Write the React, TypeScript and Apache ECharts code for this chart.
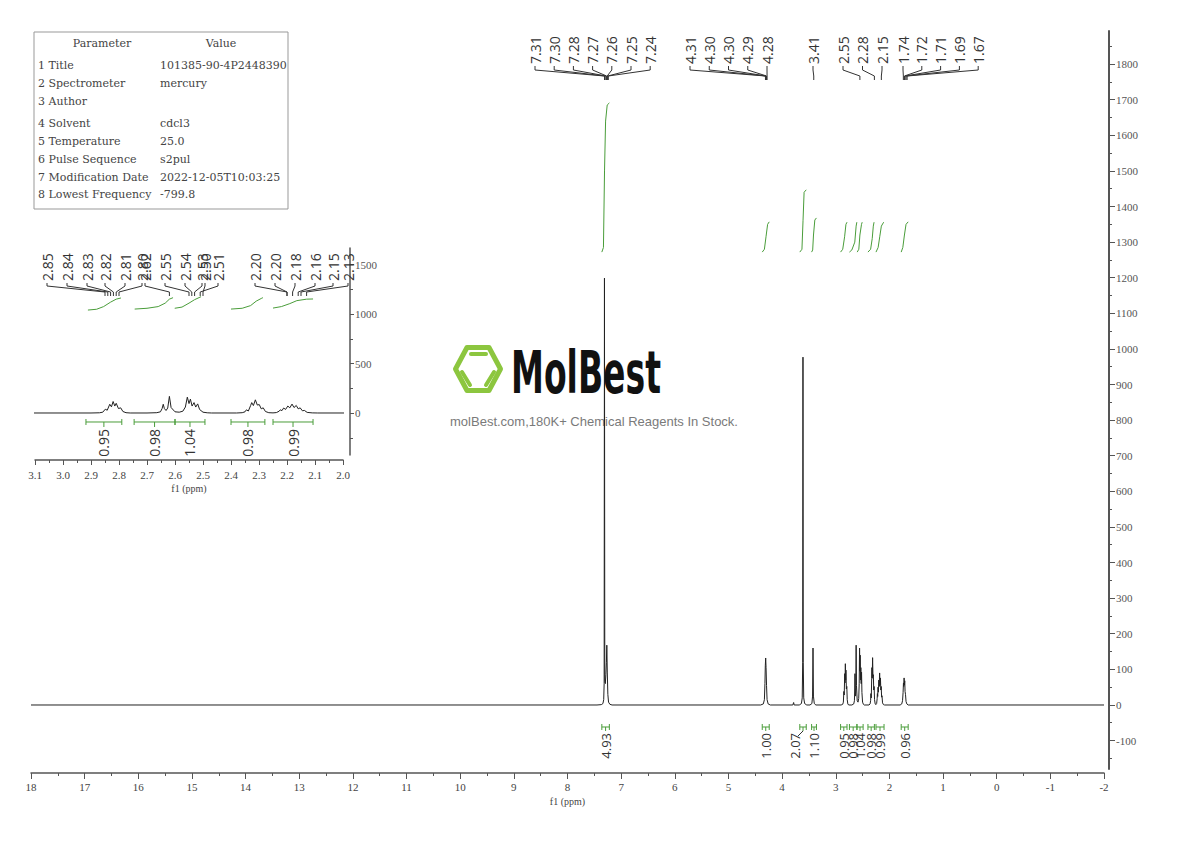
import React, { useEffect, useRef } from "react";
import * as echarts from "echarts";

// ---------------- data ----------------
// 1H spectrum: [ppm, intensity] points (apexes / valleys), high ppm -> low ppm
const spectrumPoints: number[][] = [
  [18, 0], [7.45, 0], [7.37, 1], [7.34, 4], [7.325, 15], [7.317, 60], [7.311, 1199], [7.305, 70],
  [7.295, 60], [7.285, 85], [7.275, 120], [7.267, 168], [7.258, 90], [7.248, 30], [7.235, 8], [7.21, 2], [7.17, 0],
  [4.4, 0], [4.35, 3], [4.33, 15], [4.32, 60], [4.313, 110], [4.306, 132], [4.299, 105], [4.29, 55], [4.28, 15], [4.26, 3], [4.22, 0],
  [3.8, 0], [3.785, 7], [3.775, 0],
  [3.68, 0], [3.64, 4], [3.625, 20], [3.616, 120], [3.611, 977], [3.606, 120], [3.597, 20], [3.58, 4], [3.54, 0],
  [3.48, 0], [3.445, 4], [3.432, 25], [3.424, 160], [3.416, 25], [3.4, 4], [3.37, 0],
  [2.9, 0], [2.87, 2], [2.858, 8], [2.849, 38], [2.842, 28], [2.833, 88], [2.827, 62], [2.821, 116], [2.815, 70],
  [2.81, 98], [2.802, 45], [2.794, 52], [2.786, 15], [2.775, 3], [2.76, 0],
  [2.7, 0], [2.665, 3], [2.652, 12], [2.646, 45], [2.642, 88], [2.638, 45], [2.632, 25], [2.626, 50], [2.62, 168],
  [2.614, 55], [2.6, 12], [2.585, 8], [2.572, 18], [2.563, 60], [2.556, 160], [2.55, 95], [2.545, 140], [2.539, 70],
  [2.532, 105], [2.526, 60], [2.519, 92], [2.512, 35], [2.5, 8], [2.485, 2], [2.47, 0],
  [2.38, 0], [2.36, 3], [2.35, 12], [2.345, 32], [2.338, 20], [2.33, 75], [2.326, 105], [2.32, 75], [2.313, 133],
  [2.306, 80], [2.299, 85], [2.292, 42], [2.285, 52], [2.277, 15], [2.265, 3], [2.25, 1],
  [2.238, 4], [2.228, 18], [2.224, 32], [2.218, 24], [2.212, 50], [2.205, 36], [2.197, 70], [2.19, 52], [2.182, 90],
  [2.175, 55], [2.167, 76], [2.16, 42], [2.153, 52], [2.145, 22], [2.138, 26], [2.128, 6], [2.11, 1], [2.09, 0],
  [1.8, 0], [1.77, 3], [1.755, 12], [1.745, 35], [1.738, 62], [1.732, 52], [1.726, 76], [1.72, 56], [1.714, 68],
  [1.708, 38], [1.7, 30], [1.69, 10], [1.675, 3], [1.65, 0],
  [-2, 0],
];

// axis tick labels
const mainYLabelValues = [-100, 0, 100, 200, 300, 400, 500, 600, 700, 800, 900, 1000, 1100, 1200, 1300, 1400, 1500, 1600, 1700, 1800];
const mainYMinorValues = [-150, -50, 50, 150, 250, 350, 450, 550, 650, 750, 850, 950, 1050, 1150, 1250, 1350, 1450, 1550, 1650, 1750, 1850];
const insetYLabelValues = [0, 500, 1000, 1500];
const insetYMinorValues = [-250, 250, 750, 1250];

// peak picking labels
const mainPeakGroups: string[][] = [
  ["7.31", "7.30", "7.28", "7.27", "7.26", "7.25", "7.24"],
  ["4.31", "4.30", "4.30", "4.29", "4.28"],
  ["3.41"],
  ["2.55", "2.28", "2.15"],
  ["1.74", "1.72", "1.71", "1.69", "1.67"],
];
const insetPeakLabels = ["2.85", "2.84", "2.83", "2.82", "2.81", "2.80", "2.62", "2.55", "2.54", "2.53", "2.50", "2.51", "2.20", "2.20", "2.18", "2.16", "2.15", "2.13"];

// integrations (main)
const mainIntFrom = [7.36, 4.37, 3.67, 3.45, 2.91, 2.745, 2.605, 2.4, 2.25, 1.78];
const mainIntTo = [7.22, 4.24, 3.55, 3.36, 2.79, 2.605, 2.49, 2.28, 2.1, 1.65];
const mainIntLabels = ["4.93", "1.00", "2.07", "1.10", "0.95", "0.98", "1.04", "0.98", "0.99", "0.96"];
const mainIntCurves: number[][][] = [
  [[7.36, 1272], [7.33, 1285], [7.31, 1500], [7.29, 1640], [7.26, 1685], [7.22, 1691]],
  [[4.37, 1272], [4.33, 1280], [4.3, 1315], [4.27, 1350], [4.24, 1357]],
  [[3.67, 1272], [3.63, 1280], [3.61, 1360], [3.59, 1440], [3.55, 1447]],
  [[3.45, 1272], [3.43, 1278], [3.415, 1320], [3.39, 1362], [3.36, 1368]],
  [[2.91, 1272], [2.87, 1280], [2.835, 1315], [2.81, 1350], [2.79, 1356]],
  [[2.745, 1272], [2.7, 1278], [2.645, 1300], [2.62, 1345], [2.607, 1356]],
  [[2.6, 1272], [2.57, 1280], [2.55, 1320], [2.52, 1350], [2.507, 1356]],
  [[2.4, 1272], [2.35, 1280], [2.32, 1310], [2.3, 1345], [2.286, 1356]],
  [[2.25, 1272], [2.21, 1285], [2.18, 1315], [2.15, 1345], [2.107, 1356]],
  [[1.78, 1272], [1.75, 1285], [1.72, 1320], [1.69, 1350], [1.65, 1357]],
];

// integrations (inset)
const insetIntFrom = [2.918, 2.746, 2.6, 2.4, 2.25];
const insetIntTo = [2.79, 2.6, 2.493, 2.279, 2.107];
const insetIntLabels = ["0.95", "0.98", "1.04", "0.98", "0.99"];
const insetIntCurves: number[][][] = [
  [[2.911, 1040], [2.88, 1048], [2.855, 1075], [2.83, 1120], [2.81, 1150], [2.793, 1162]],
  [[2.744, 1050], [2.7, 1058], [2.66, 1075], [2.635, 1110], [2.62, 1150], [2.607, 1165]],
  [[2.601, 1058], [2.575, 1070], [2.55, 1110], [2.53, 1145], [2.507, 1175]],
  [[2.4, 1050], [2.36, 1058], [2.33, 1085], [2.31, 1130], [2.29, 1160], [2.286, 1165]],
  [[2.25, 1060], [2.22, 1075], [2.19, 1105], [2.165, 1135], [2.13, 1150], [2.107, 1152]],
];

// parameter table
const paramNames = ["1 Title", "2 Spectrometer", "3 Author", "4 Solvent", "5 Temperature", "6 Pulse Sequence", "7 Modification Date", "8 Lowest Frequency"];
const paramValues = ["101385-90-4P2448390", "mercury", "", "cdcl3", "25.0", "s2pul", "2022-12-05T10:03:25", "-799.8"];

// ---------------- layout / style ----------------
const GREEN = "#4a9d3a";
const INK = "#222";
const AXIS = "#555";
const SERIF = "Liberation Serif";
const LABEL_FONT = "Open Sans";

const mainLabelStart = [535, 690, 813, 843, 903];
const mainLabelStep = [19.2, 19.25, 0, 19.5, 18.8];
const insetLabelX = [47, 67, 87, 105, 125, 142, 145, 165, 185, 202, 205, 218, 255, 275, 295, 315, 333, 348];
const mainIntLabelShift = [0, 0, -8, 0, 0, 0, 0, 0, 0, 0];
const paramRowY = [65, 83, 101, 123, 141, 159, 177, 194];

const plain = (v: number) => String(v);

function buildOption(): any {
  const xLabel = { color: "#444", fontFamily: SERIF, fontSize: 11 };
  const series: any[] = [
    { type: "line", xAxisIndex: 0, yAxisIndex: 0, data: spectrumPoints, symbol: "none", silent: true, lineStyle: { color: INK, width: 1 }, z: 3 },
    { type: "line", xAxisIndex: 1, yAxisIndex: 1, data: spectrumPoints, symbol: "none", silent: true, lineStyle: { color: INK, width: 1 }, z: 3 },
  ];
  mainIntCurves.forEach((c) =>
    series.push({ type: "line", xAxisIndex: 0, yAxisIndex: 0, data: c, symbol: "none", silent: true, lineStyle: { color: GREEN, width: 1 } })
  );
  insetIntCurves.forEach((c) =>
    series.push({ type: "line", xAxisIndex: 1, yAxisIndex: 1, data: c, symbol: "none", silent: true, lineStyle: { color: GREEN, width: 1 } })
  );
  return {
    animation: false,
    backgroundColor: "#ffffff",
    grid: [
      { left: 31, right: 86, top: 31, bottom: 68, outerBoundsMode: "none" },
      { left: 35, right: 847, top: 248, bottom: 381, outerBoundsMode: "none" },
      { left: 35, right: 847, top: 248, bottom: 386, outerBoundsMode: "none" },
      { left: 31, right: 86, top: 31, bottom: 72, outerBoundsMode: "none" },
    ],
    xAxis: [
      {
        gridIndex: 0, type: "value", inverse: true, min: -2, max: 18, interval: 1,
        axisLine: { onZero: false, lineStyle: { color: AXIS, width: 1.5 } },
        axisTick: { length: 6, lineStyle: { color: AXIS } },
        minorTick: { show: true, splitNumber: 2, length: 3, lineStyle: { color: AXIS } },
        splitLine: { show: false },
        axisLabel: { ...xLabel, margin: 8, formatter: plain },
        name: "f1 (ppm)", nameLocation: "middle", nameGap: 23,
        nameTextStyle: { color: "#444", fontFamily: SERIF, fontSize: 10 },
      },
      {
        gridIndex: 1, type: "value", inverse: true, min: 2.0, max: 3.1, interval: 0.1,
        axisLine: { onZero: false, lineStyle: { color: AXIS, width: 1.5 } },
        axisTick: { length: 5, lineStyle: { color: AXIS } },
        minorTick: { show: true, splitNumber: 2, length: 3, lineStyle: { color: AXIS } },
        splitLine: { show: false },
        axisLabel: { ...xLabel, margin: 9, formatter: (v: number) => v.toFixed(1) },
        name: "f1 (ppm)", nameLocation: "middle", nameGap: 23,
        nameTextStyle: { color: "#444", fontFamily: SERIF, fontSize: 10 },
      },
      { gridIndex: 2, type: "value", show: false, min: 0, max: 1 },
      { gridIndex: 3, type: "value", show: false, min: 0, max: 1 },
    ],
    yAxis: [
      { gridIndex: 0, type: "value", show: false, min: -191, max: 1893, axisLine: { onZero: false }, splitLine: { show: false } },
      { gridIndex: 1, type: "value", show: false, min: -475, max: 1667, axisLine: { onZero: false }, splitLine: { show: false } },
      {
        gridIndex: 2, type: "value", position: "right", offset: 7, min: -424, max: 1667,
        axisLine: { show: true, onZero: false, lineStyle: { color: AXIS, width: 1.5 } },
        axisTick: { show: true, length: 4, customValues: insetYLabelValues, lineStyle: { color: AXIS } },
        axisLabel: { customValues: insetYLabelValues, margin: 5, color: "#555", fontFamily: SERIF, fontSize: 11, formatter: plain },
        splitLine: { show: false },
      },
      {
        gridIndex: 2, type: "value", position: "right", offset: 7, min: -424, max: 1667,
        axisLine: { show: false, onZero: false },
        axisTick: { show: true, length: 3, customValues: insetYMinorValues, lineStyle: { color: AXIS } },
        axisLabel: { show: false },
        splitLine: { show: false },
      },
      {
        gridIndex: 3, type: "value", position: "right", offset: 5, min: -180, max: 1893,
        axisLine: { show: true, onZero: false, lineStyle: { color: AXIS, width: 2 } },
        axisTick: { show: true, length: 6, customValues: mainYLabelValues, lineStyle: { color: AXIS } },
        axisLabel: { customValues: mainYLabelValues, margin: 7, color: "#555", fontFamily: SERIF, fontSize: 11, formatter: plain },
        splitLine: { show: false },
      },
      {
        gridIndex: 3, type: "value", position: "right", offset: 5, min: -180, max: 1893,
        axisLine: { show: false, onZero: false },
        axisTick: { show: true, length: 3, customValues: mainYMinorValues, lineStyle: { color: AXIS } },
        axisLabel: { show: false },
        splitLine: { show: false },
      },
    ],
    series,
  };
}

function buildGraphics(chart: echarts.ECharts): any[] {
  const g: any[] = [];
  const toMain = (x: number, y: number) => chart.convertToPixel({ xAxisIndex: 0, yAxisIndex: 0 } as any, [x, y]) as number[];
  const toInset = (x: number, y: number) => chart.convertToPixel({ xAxisIndex: 1, yAxisIndex: 1 } as any, [x, y]) as number[];
  const poly = (pts: number[][], color: string, w = 1) =>
    g.push({ type: "polyline", silent: true, z: 5, shape: { points: pts }, style: { stroke: color, lineWidth: w, fill: null } });
  const vtext = (x: number, y: number, text: string, align: string, size: number) =>
    g.push({
      type: "text", silent: true, z: 5, x, y, rotation: Math.PI / 2,
      style: { text, fontSize: size, fontFamily: LABEL_FONT, fill: "#333", align, verticalAlign: "middle" },
    });
  const text = (x: number, y: number, t: string, align: string) =>
    g.push({
      type: "text", silent: true, z: 5, x, y,
      style: { text: t, fontSize: 11, fontFamily: "DejaVu Serif", fill: "#444", align, verticalAlign: "middle" },
    });

  // ---- watermark ----
  const wmGreen = "#8cc63f";
  g.push({
    type: "polygon", silent: true, z: 1,
    shape: { points: [[455.5, 369], [467, 347.5], [489, 347.5], [500.5, 369], [489, 390.5], [467, 390.5]] },
    style: { fill: null, stroke: wmGreen, lineWidth: 5, lineJoin: "round" },
  });
  [[471, 354, 486, 354], [462, 372, 470, 385], [494, 372, 486, 385]].forEach((s) =>
    g.push({ type: "line", silent: true, z: 1, shape: { x1: s[0], y1: s[1], x2: s[2], y2: s[3] }, style: { stroke: wmGreen, lineWidth: 4, lineCap: "round" } })
  );
  g.push({
    type: "text", silent: true, z: 1, x: 511, y: 373, scaleX: 0.57,
    style: { text: "MolBest", fontSize: 58, fontWeight: "bold", fontFamily: "DejaVu Sans", fill: "#111", align: "left", verticalAlign: "middle" },
  });
  g.push({
    type: "text", silent: true, z: 1, x: 594, y: 421,
    style: { text: "molBest.com,180K+ Chemical Reagents In Stock.", fontSize: 13, fontFamily: "Liberation Sans", fill: "#7a7a7a", align: "center", verticalAlign: "middle" },
  });

  // ---- parameter table ----
  g.push({ type: "rect", silent: true, z: 4, shape: { x: 34, y: 32, width: 254, height: 177 }, style: { fill: "#fff", stroke: "#999", lineWidth: 1 } });
  text(102, 43, "Parameter", "center");
  text(221, 43, "Value", "center");
  paramNames.forEach((n, i) => {
    text(38, paramRowY[i], n, "left");
    if (paramValues[i]) text(160, paramRowY[i], paramValues[i], "left");
  });

  // ---- main peak labels ----
  mainPeakGroups.forEach((grp, gi) =>
    grp.forEach((lab, i) => {
      const lx = mainLabelStart[gi] + i * mainLabelStep[gi];
      const tx = toMain(parseFloat(lab), 0)[0];
      vtext(lx, 64, lab, "left", 14);
      poly([[lx, 66], [lx, 70], [tx, 76], [tx, 80]], "#333");
    })
  );

  // ---- inset peak labels ----
  insetPeakLabels.forEach((lab, i) => {
    const lx = insetLabelX[i];
    const tx = toInset(parseFloat(lab), 0)[0];
    vtext(lx, 281, lab, "left", 14);
    poly([[lx, 283], [lx, 286], [tx, 292], [tx, 296]], "#333");
  });

  // ---- main integration brackets ----
  mainIntFrom.forEach((f, i) => {
    const p1 = toMain(f, 0);
    const x2 = toMain(mainIntTo[i], 0)[0];
    const y = p1[1] + 22;
    const x1 = p1[0];
    const xc = (x1 + x2) / 2;
    poly([[x1, y], [x2, y]], GREEN);
    poly([[x1, y - 3], [x1, y + 3]], GREEN);
    poly([[x2, y - 3], [x2, y + 3]], GREEN);
    poly([[xc, y], [xc, y + 4]], GREEN);
    const lx = xc + mainIntLabelShift[i];
    if (mainIntLabelShift[i] !== 0) poly([[xc, y + 4], [lx + 3, y + 9]], "#333");
    vtext(lx, y + 6, mainIntLabels[i], "right", 13);
  });

  // ---- inset integration brackets ----
  insetIntFrom.forEach((f, i) => {
    const p1 = toInset(f, 0);
    const x2 = toInset(insetIntTo[i], 0)[0];
    const y = p1[1] + 9;
    const x1 = p1[0];
    const xc = (x1 + x2) / 2;
    poly([[x1, y], [x2, y]], GREEN);
    poly([[x1, y - 3], [x1, y + 3]], GREEN);
    poly([[x2, y - 3], [x2, y + 3]], GREEN);
    poly([[xc, y], [xc, y + 5]], GREEN);
    vtext(xc, y + 7, insetIntLabels[i], "right", 14);
  });

  return g;
}

export default function App() {
  const ref = useRef<HTMLDivElement>(null);
  useEffect(() => {
    const el = ref.current!;
    const chart = echarts.init(el, null, { renderer: "svg", width: 1190, height: 841 });
    chart.setOption(buildOption());
    chart.setOption({ graphic: buildGraphics(chart) });
    return () => chart.dispose();
  }, []);
  return <div ref={ref} style={{ position: "absolute", left: 0, top: 0, width: 1190, height: 841, background: "#fff" }} />;
}
